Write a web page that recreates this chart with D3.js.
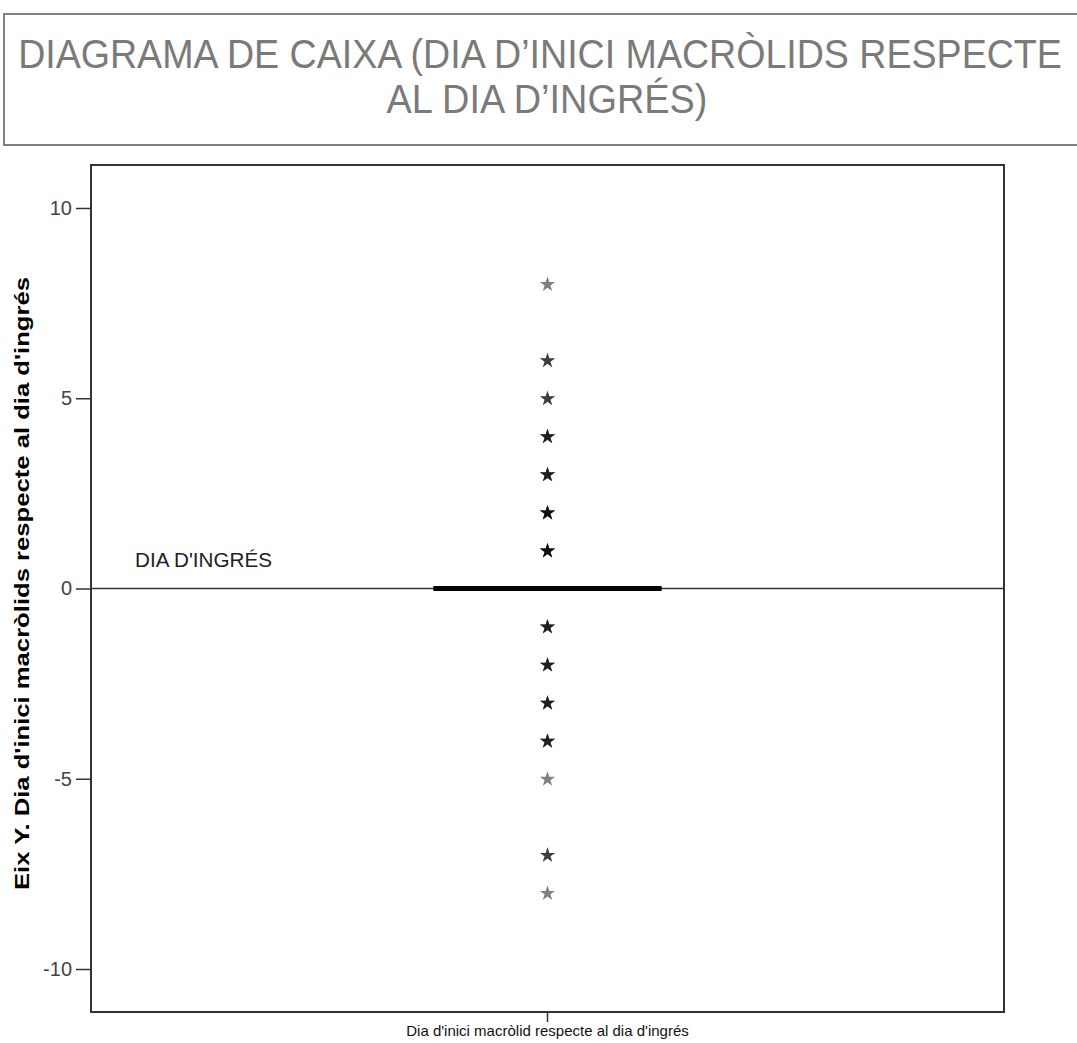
<!DOCTYPE html>
<html>
<head>
<meta charset="utf-8">
<script src="https://cdn.jsdelivr.net/npm/d3@7"></script>
<style>
  html, body { margin: 0; padding: 0; background: #fff; }
  svg { display: block; }
</style>
</head>
<body>
<script>
// Variable shown and its box statistics (all cases of the box sit on day 0)
const category = ["Dia d'inici macròlid respecte al dia d'ingrés"];
const boxStats = { q1: 0, median: 0, q3: 0, whiskerLow: 0, whiskerHigh: 0 };

// Extreme values (day relative to admission) and how many cases fall on each
const extremeDays   = [8, 6, 5, 4, 3, 2, 1, -1, -2, -3, -4, -5, -7, -8];
const extremeCounts = [1, 2, 2, 3, 3, 4, 4, 3, 3, 3, 3, 1, 2, 1];

const yTicks = [-10, -5, 0, 5, 10];
const yDomain = [-11.13, 11.13];

const titleLines = ["DIAGRAMA DE CAIXA (DIA D\u2019INICI MACRÒLIDS RESPECTE", "AL DIA D\u2019INGRÉS)"];
const yTitle = "Eix Y. Dia d'inici macròlids respecte al dia d'ingrés";
const refLabel = "DIA D'INGRÉS";

const W = 1077, H = 1043;
const plot = { left: 91, right: 1004, top: 165, bottom: 1012 };

const svg = d3.select("body").append("svg")
  .attr("width", W).attr("height", H)
  .style("font-family", "Arial, 'Liberation Sans', Helvetica, sans-serif");

// Title panel
svg.append("rect")
  .attr("x", 4).attr("y", 14).attr("width", W + 20).attr("height", 131)
  .attr("fill", "none").attr("stroke", "#808080").attr("stroke-width", 2);

// Title lines in a condensed style: glyphs squeezed horizontally to a set width
const titleSpecs = [
  { text: titleLines[0], x: 540, y: 68, len: 1044 },
  { text: titleLines[1], x: 547, y: 113, len: 321 }
];
svg.selectAll("text.title").data(titleSpecs).join("text")
  .attr("class", "title")
  .attr("x", 0).attr("y", 0)
  .attr("text-anchor", "middle")
  .attr("font-size", 40)
  .attr("fill", "#7a7a7a")
  .text(d => d.text)
  .each(function (d) {
    const natural = this.getComputedTextLength();
    const sx = d.len / natural;
    d3.select(this).attr("transform", `translate(${d.x},${d.y}) scale(${sx},1)`);
  });

// Scales
const y = d3.scaleLinear().domain(yDomain).range([plot.bottom, plot.top]);
const x = d3.scaleBand().domain(category).range([plot.left, plot.right]).paddingInner(0).paddingOuter(0);
const cx = x(category[0]) + x.bandwidth() / 2;
const boxW = x.bandwidth() * 0.25;

// Y axis
const yAxis = d3.axisLeft(y).tickValues(yTicks).tickSize(15).tickPadding(4).tickFormat(d3.format("d"));
const gy = svg.append("g").attr("transform", `translate(${plot.left},0)`).call(yAxis);
gy.select(".domain").remove();
gy.selectAll(".tick line").attr("stroke", "#333").attr("stroke-width", 1.5);
gy.selectAll(".tick text")
  .attr("font-size", 20).attr("fill", "#444")
  .style("font-family", "Arial, 'Liberation Sans', sans-serif")
  .text(d => d < 0 ? "-" + Math.abs(d) : d);

// X axis (single category)
const xAxis = d3.axisBottom(x).tickSize(10).tickPadding(3);
const gx = svg.append("g").attr("transform", `translate(0,${plot.bottom})`).call(xAxis);
gx.select(".domain").remove();
gx.selectAll(".tick line").attr("stroke", "#333").attr("stroke-width", 1.5);
gx.selectAll(".tick text").attr("font-size", 15).attr("fill", "#111");

// Plot frame
svg.append("rect")
  .attr("x", plot.left).attr("y", plot.top)
  .attr("width", plot.right - plot.left).attr("height", plot.bottom - plot.top)
  .attr("fill", "none").attr("stroke", "#333").attr("stroke-width", 2);

// Reference line at the admission day
svg.append("line")
  .attr("x1", plot.left).attr("x2", plot.right)
  .attr("y1", y(0)).attr("y2", y(0))
  .attr("stroke", "#333").attr("stroke-width", 1.5);
svg.append("text")
  .attr("x", 135).attr("y", 567)
  .attr("font-size", 20).attr("fill", "#222")
  .attr("textLength", 137).attr("lengthAdjust", "spacingAndGlyphs")
  .text(refLabel);

// Collapsed box: Q1 = median = Q3
svg.append("rect")
  .attr("x", cx - boxW / 2).attr("width", boxW)
  .attr("y", y(boxStats.q3)).attr("height", y(boxStats.q1) - y(boxStats.q3))
  .attr("fill", "none").attr("stroke", "#000");
svg.append("line")
  .attr("x1", cx - boxW / 2).attr("x2", cx + boxW / 2)
  .attr("y1", y(boxStats.median)).attr("y2", y(boxStats.median))
  .attr("stroke", "#000").attr("stroke-width", 5);

// Extreme values: one star per case, stacked at the same spot
const cases = [];
extremeDays.forEach((v, i) => {
  for (let k = 0; k < extremeCounts[i]; k++) cases.push(v);
});
const star = d3.symbol().type(d3.symbolStar).size(72);
svg.append("g").selectAll("path").data(cases).join("path")
  .attr("d", star)
  .attr("transform", d => `translate(${cx},${y(d) + 0.5})`)
  .attr("fill", "#000").attr("fill-opacity", 0.5);

// Y axis title
svg.append("text")
  .attr("transform", `translate(29,${(plot.top + plot.bottom) / 2 - 5}) rotate(-90)`)
  .attr("text-anchor", "middle")
  .attr("font-size", 21).attr("font-weight", "bold").attr("fill", "#000")
  .attr("textLength", 613).attr("lengthAdjust", "spacingAndGlyphs")
  .text(yTitle);
</script>
</body>
</html>
